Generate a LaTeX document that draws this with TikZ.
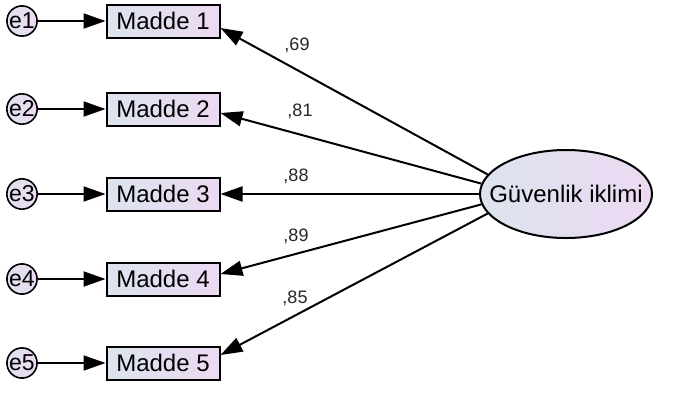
\documentclass[tikz,border=0pt]{standalone}
\usepackage{fontspec}
\setmainfont{Liberation Sans}
\usepackage{tikz}
\usetikzlibrary{
  positioning,
  arrows.meta,
  shapes.geometric
}
\definecolor{dolguA}{HTML}{DCE4EE}
\definecolor{dolguB}{HTML}{ECD9F2}

\begin{document}
\begin{tikzpicture}[x=1pt,y=-1pt,
  madde/.style={draw,line width=2pt,minimum width=113pt,minimum height=33pt,
    inner sep=0pt,left color=dolguA,right color=dolguB,
    font=\fontsize{24}{24}\selectfont},
  hata/.style={circle,draw,line width=1.6pt,minimum size=29pt,inner sep=0pt,
    left color=dolguA,right color=dolguB,font=\fontsize{23}{23}\selectfont},
  gizil/.style={ellipse,draw,line width=2pt,minimum width=172pt,minimum height=88pt,
    inner sep=0pt,left color=dolguA,right color=dolguB},
  ok/.style={line width=2pt,-{Triangle[length=22pt,width=15pt]}},
  katsayi/.style={font=\fontsize{18}{18}\selectfont,text=black!85}]
  \useasboundingbox (0,0) rectangle (680,392);

  % gizil degisken
  \node[gizil] (lat) at (566,194) {};
  \node[font=\fontsize{24}{24}\selectfont] (latad) at (lat.center) {Güvenlik iklimi};

  % \k: madde no, \y: satir, \a: elipsteki cikis acisi, \d: kutudaki kayma
  \foreach \k/\y/\a/\d in {1/21/166/-7, 2/109/173/-4, 3/194/180/0, 4/279/187/5, 5/363/194/8}{
    \node[hata] (e\k) at (22,\y) {e\k};
    \node[madde] (m\k) at (163,\y) {Madde \k};
    \draw[ok] (e\k) -- (m\k);
    \draw[ok] (lat.\a) -- ([yshift=\d pt]m\k.east);
  }

  % yukler
  \node[katsayi] (k1) at (297,45) {,69};
  \node[katsayi] (k2) at (300,111) {,81};
  \node[katsayi] (k3) at (296,176) {,88};
  \node[katsayi] (k4) at (296,236) {,89};
  \node[katsayi] (k5) at (295,298) {,85};
\end{tikzpicture}
\end{document}
